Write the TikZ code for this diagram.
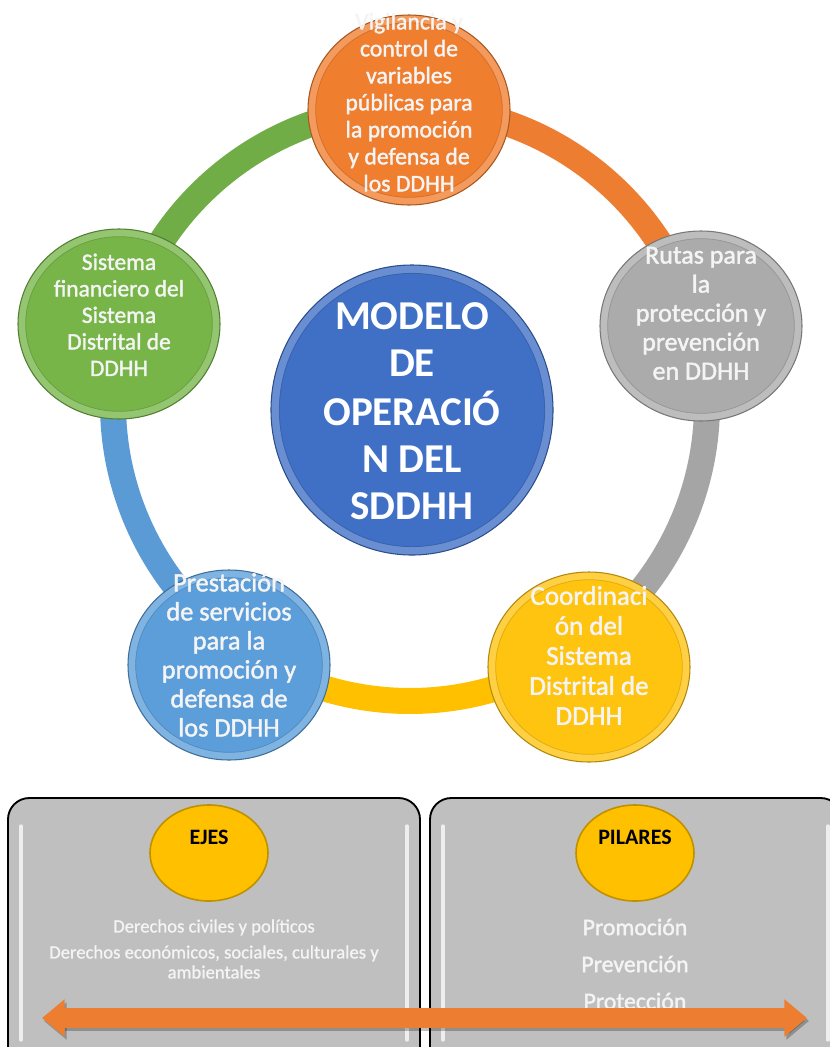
\documentclass[tikz,border=0pt]{standalone}
\usepackage{fontspec}
\setmainfont{Carlito}
\newfontfamily\thickfont{Carlito}[FakeBold=1.6]
\newfontfamily\thinbold{Carlito}[FakeBold=1.0]
\usetikzlibrary{shapes.geometric,arrows.meta}
\definecolor{cOrange}{HTML}{F07E2F}
\definecolor{cGreen}{HTML}{77B548}
\definecolor{cGray}{HTML}{ABABAB}
\definecolor{cGold}{HTML}{FFC410}
\definecolor{cBlue}{HTML}{5C9EDA}
\definecolor{cDeep}{HTML}{3F70C6}
\definecolor{rOrange}{HTML}{ED7D31}
\definecolor{rGreen}{HTML}{70AD47}
\definecolor{rGray}{HTML}{A5A5A5}
\definecolor{rGold}{HTML}{FFC000}
\definecolor{rBlue}{HTML}{5B9BD5}
\definecolor{cBox}{HTML}{BFBFBF}
\definecolor{cYel}{HTML}{FFC000}
\definecolor{cYelEdge}{HTML}{BF9000}
\definecolor{cTxt}{HTML}{F4F4F4}
% text block of zero size, raised by #1 above the node centre
\newcommand{\circtext}[2]{\raisebox{#1}[0pt][0pt]{\makebox[0pt]{\begin{tabular}{@{}c@{}}#2\end{tabular}}}}
\begin{document}
\begin{tikzpicture}[x=0.75pt,y=-0.75pt,
  ball/.style={ellipse, inner sep=0pt, minimum width=151.5pt, minimum height=142.5pt,
     fill=#1, draw=#1!70!black, line width=0.8pt, text=cTxt,
     path picture={
       \draw[white,opacity=.22,line width=11pt] (path picture bounding box.center) ellipse[x radius=75.75pt,y radius=71.25pt];
       \draw[#1!65!black,opacity=.35,line width=.6pt] (path picture bounding box.center) ellipse[x radius=70pt,y radius=65.5pt];
     }},
  hub/.style={ellipse, inner sep=0pt, minimum width=211.5pt, minimum height=217.5pt,
     fill=cDeep, draw=cDeep!70!black, line width=0.8pt, text=white,
     path picture={
       \draw[white,opacity=.22,line width=12pt] (path picture bounding box.center) ellipse[x radius=105.75pt,y radius=108.75pt];
       \draw[cDeep!60!black,opacity=.35,line width=.6pt] (path picture bounding box.center) ellipse[x radius=99.5pt,y radius=102.5pt];
     }},
  ringseg/.style={line width=19.5pt, draw=#1},
  panel/.style={rectangle, rounded corners=16pt, fill=cBox, draw=black, line width=1.4pt,
     minimum width=309pt, minimum height=204pt, inner sep=0pt},
  glint/.style={white, opacity=.75, line width=2.5pt, line cap=round},
  badge/.style={ellipse, inner sep=0pt, minimum width=88.5pt, minimum height=72pt,
     fill=cYel, draw=cYelEdge, line width=1.2pt, text=black,
     font=\fontsize{16.5}{18}\selectfont\bfseries},
  arrowline/.style={line width=15pt, draw=rOrange,
     {Triangle[length=17pt,width=27pt]}-{Triangle[length=17pt,width=27pt]}}
]
\fill[white] (0,0) rectangle (830,1047);
\clip (0,0) rectangle (830,1047);
\useasboundingbox (0,0) rectangle (830,1047);

% ring
\coordinate (ringc) at (410,404);
\draw[ringseg=rGreen]  (ringc) ++(270:297) arc[start angle=270, end angle=195, radius=297];
\draw[ringseg=rBlue]   (ringc) ++(195:297) arc[start angle=195, end angle=125, radius=297];
\draw[ringseg=rGold]   (ringc) ++(125:297) arc[start angle=125, end angle=56,  radius=297];
\draw[ringseg=rGray]   (ringc) ++(56:297)  arc[start angle=56,  end angle=-15, radius=297];
\draw[ringseg=rOrange] (ringc) ++(-15:297) arc[start angle=-15, end angle=-90, radius=297];

% circles
\node[hub, font=\fontsize{30.75}{35.25}\selectfont\bfseries] (hub) at (412,410)
  {\circtext{-10pt}{MODELO\\DE\\OPERACIÓ\\N DEL\\SDDHH}};
\node[ball=cOrange, font=\thickfont\fontsize{17.8}{20.25}\selectfont] (vig) at (409,110)
  {\circtext{-0.5pt}{Vigilancia y\\control de\\variables\\públicas para\\la promoción\\y defensa de\\los DDHH}};
\node[ball=cGreen, font=\thickfont\fontsize{17.6}{19.9}\selectfont] (fin) at (119,324)
  {\circtext{0.5pt}{Sistema\\financiero del\\Sistema\\Distrital de\\DDHH}};
\node[ball=cGray, font=\thickfont\fontsize{19.5}{21.75}\selectfont] (rutas) at (701,326)
  {\circtext{2.5pt}{Rutas para\\la\\protección y\\prevención\\en DDHH}};
\node[ball=cGold, font=\thickfont\fontsize{20.25}{22.5}\selectfont] (coord) at (589,667)
  {\circtext{1pt}{Coordinaci\\ón del\\Sistema\\Distrital de\\DDHH}};
\node[ball=cBlue, font=\thickfont\fontsize{19.8}{21.75}\selectfont] (prest) at (229,665)
  {\circtext{0pt}{Prestación\\de servicios\\para la\\promoción y\\defensa de\\los DDHH}};

% bottom panels
\node[panel] (ejesbox) at (214,934) {};
\node[panel] (pilbox) at (636,934) {};
\draw[glint] (21,826) -- (21,1040);
\draw[glint] (407,826) -- (407,1040);
\draw[glint] (443,826) -- (443,1040);
\draw[glint] (828,826) -- (828,1040);

\node[badge] (ejes) at (209,853) {\raisebox{12pt}[\height][\depth]{EJES}};
\node[badge] (pilares) at (635,853) {\raisebox{12pt}[\height][\depth]{PILARES}};

\node[text=cTxt, align=center, font=\thinbold\fontsize{14}{15}\selectfont] (ejestxt) at (214,949)
  {Derechos civiles y políticos\\[4.5pt]Derechos económicos, sociales, culturales y\\ambientales};
\node[text=cTxt, align=center, font=\thickfont\fontsize{17.8}{27.75}\selectfont] (piltxt) at (635,964)
  {Promoción\\Prevención\\Protección};

% double arrow
\coordinate (aL) at (42,1018);
\coordinate (aR) at (807,1018);
\coordinate (aLs) at (44,1021);
\coordinate (aRs) at (809,1021);
\draw[arrowline, draw=black, opacity=.25] (aLs) -- (aRs);
\draw[arrowline] (aL) -- (aR);
\end{tikzpicture}
\end{document}
